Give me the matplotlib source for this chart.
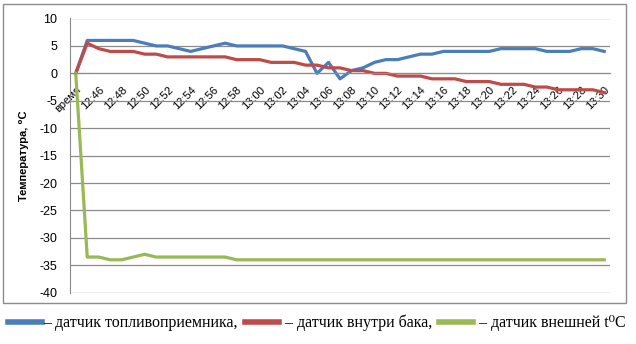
import matplotlib
matplotlib.use('Agg')
import matplotlib.pyplot as plt
from matplotlib.lines import Line2D
from matplotlib.patches import Rectangle

plt.rcParams['axes.unicode_minus'] = False

# Категории: "время" + отсчёты каждую минуту
categories = ['время'] + ['12:%02d' % m for m in range(45, 60)] + ['13:%02d' % m for m in range(0, 31)]

# датчик топливоприемника
blue = [0, 6, 6, 6, 6, 6, 5.5, 5, 5, 4.5, 4, 4.5, 5, 5.5, 5, 5, 5, 5, 5, 4.5,
        4, 0, 2, -1, 0.5, 1, 2, 2.5, 2.5, 3, 3.5, 3.5, 4, 4, 4, 4, 4, 4.5, 4.5, 4.5,
        4.5, 4, 4, 4, 4.5, 4.5, 4]
# датчик внутри бака
red = [0, 5.5, 4.5, 4, 4, 4, 3.5, 3.5, 3, 3, 3, 3, 3, 3, 2.5, 2.5, 2.5, 2, 2, 2,
       1.5, 1.5, 1, 1, 0.5, 0.5, 0, 0, -0.5, -0.5, -0.5, -1, -1, -1, -1.5, -1.5, -1.5, -2, -2, -2,
       -2.5, -2.5, -3, -3, -3, -3, -3.5]
# датчик внешней температуры
green = [0, -33.5, -33.5, -34, -34, -33.5, -33, -33.5, -33.5, -33.5, -33.5, -33.5, -33.5, -33.5, -34, -34, -34, -34, -34, -34,
         -34, -34, -34, -34, -34, -34, -34, -34, -34, -34, -34, -34, -34, -34, -34, -34, -34, -34, -34, -34,
         -34, -34, -34, -34, -34, -34, -34]

legend_labels = ['– датчик топливоприемника,', ' – датчик внутри бака,', ' – датчик внешней t⁰C']
colors = ['#4A7EBB', '#BE4B48', '#98B954']

fig = plt.figure(figsize=(6.36, 3.44), dpi=100)
ax = fig.add_axes([70/636, 1-292.7/344, 540/636, (292.7-18.5)/344])

x = list(range(len(categories)))
for series, c in zip([blue, red, green], colors):
    ax.plot(x, series, color=c, lw=2.3, solid_joinstyle='round')

ax.set_xlim(-0.5, len(categories) - 0.5)
ax.set_ylim(-40, 10)
ax.set_yticks(range(-40, 11, 5))
ax.grid(axis='y', color='#8c8c8c', lw=0.9)
ax.set_axisbelow(True)

for s in ['top', 'right']:
    ax.spines[s].set_visible(False)
ax.spines['bottom'].set_position(('data', 0))
ax.spines['bottom'].set_color('#8c8c8c')
ax.spines['left'].set_color('#8c8c8c')

ax.set_xticks(x[::2])
ax.set_xticklabels(categories[::2], rotation=45, ha='right', rotation_mode='anchor',
                   fontsize=8, family='Liberation Sans')
ax.tick_params(axis='x', length=0, pad=8)
ax.tick_params(axis='y', length=0, pad=9, labelsize=9)
for t in ax.get_yticklabels():
    t.set_family('Liberation Sans')

ax.set_ylabel('Температура, ⁰C', fontsize=8, fontweight='bold', family=['Liberation Sans', 'DejaVu Sans'])
ax.yaxis.set_label_coords(-0.075, 0.5)

# рамка диаграммы
fig.patches.append(Rectangle((3/636, 1-303/344), 623/636, 299/344, transform=fig.transFigure,
                             fill=False, edgecolor='#8c8c8c', lw=1))

handles = [Line2D([], [], color=c, lw=4) for c in colors]
fig.legend(handles, legend_labels, loc='center left', bbox_to_anchor=(-0.005, 1-323/344), ncol=3,
           frameon=False, handlelength=2.1, handletextpad=0.12, columnspacing=0.45,
           borderpad=0.2, prop={'family': ['Liberation Serif', 'DejaVu Serif'], 'size': 11.5})

fig.savefig('out.png', dpi=100)
